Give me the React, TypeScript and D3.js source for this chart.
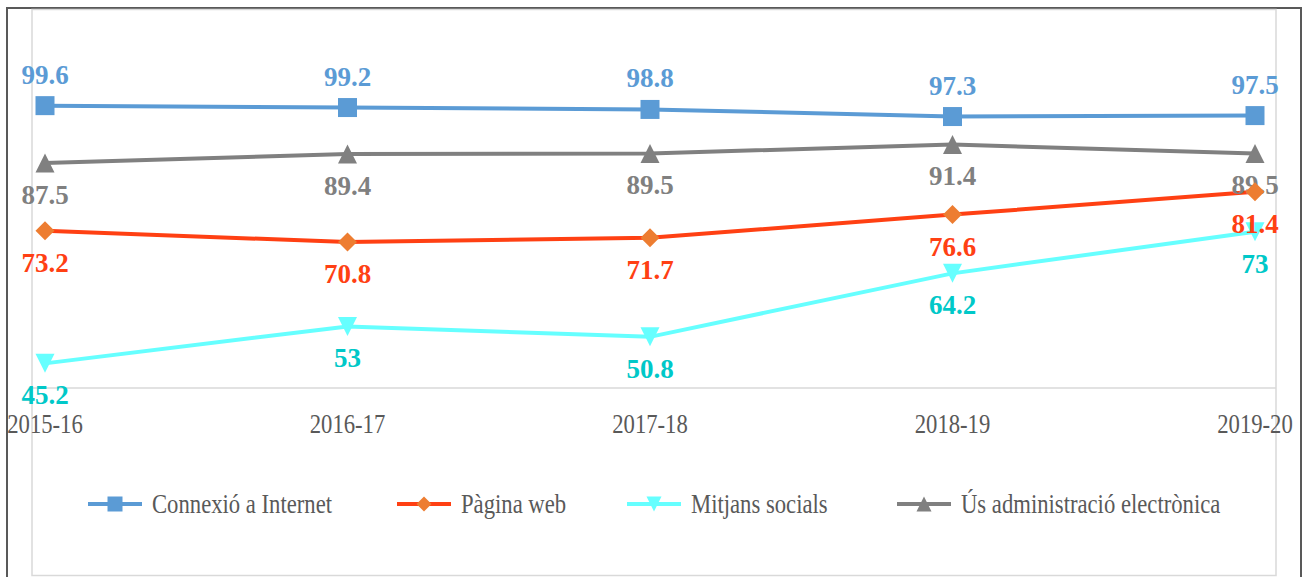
import React from "react";
import * as d3 from "d3";

// chart values
const years = ["2015-16", "2016-17", "2017-18", "2018-19", "2019-20"];
const internet = [99.6, 99.2, 98.8, 97.3, 97.5];
const web = [73.2, 70.8, 71.7, 76.6, 81.4];
const social = [45.2, 53, 50.8, 64.2, 73];
const admin = [87.5, 89.4, 89.5, 91.4, 89.5];
const yDomain = [40, 120];

const W = 1305;
const H = 577;

const series = [
  { key: "internet", name: "Connexió a Internet", values: internet, line: "#5B9BD5", marker: "#5B9BD5", label: "#5B9BD5", shape: "square", above: true },
  { key: "web", name: "Pàgina web", values: web, line: "#FF4013", marker: "#ED7D31", label: "#FF4013", shape: "diamond", above: false },
  { key: "social", name: "Mitjans socials", values: social, line: "#66FFFF", marker: "#66FFFF", label: "#00C8C8", shape: "down", above: false },
  { key: "admin", name: "Ús administració electrònica", values: admin, line: "#808080", marker: "#808080", label: "#808080", shape: "up", above: false },
];

function markerPath(shape: string, s: number) {
  const h = s / 2;
  const p = d3.path();
  if (shape === "square") {
    p.rect(-h, -h, s, s);
  } else if (shape === "diamond") {
    p.moveTo(0, -h); p.lineTo(h, 0); p.lineTo(0, h); p.lineTo(-h, 0); p.closePath();
  } else if (shape === "up") {
    p.moveTo(0, -h); p.lineTo(h, h); p.lineTo(-h, h); p.closePath();
  } else {
    p.moveTo(-h, -h); p.lineTo(h, -h); p.lineTo(0, h); p.closePath();
  }
  return p.toString();
}

const legendX = [88, 397, 627, 897];

export default function App() {
  const x = d3.scalePoint<string>().domain(years).range([45, 1255]);
  const y = d3.scaleLinear().domain(yDomain).range([388, 9]);
  const line = d3
    .line<number>()
    .x((_, i) => x(years[i]) as number)
    .y((d) => y(d));

  const serif = "'Liberation Serif', 'Times New Roman', serif";
  const gray = series.find((s) => s.key === "admin")!;
  const others = series.filter((s) => s.key !== "admin");

  const labels = (s: typeof series[number]) =>
    s.values.map((v, i) => (
      <text
        key={s.key + "l" + i}
        x={x(years[i])}
        y={s.above ? y(v) - 22 : y(v) + 41}
        textAnchor="middle"
        fontFamily={serif}
        fontWeight="bold"
        fontSize={27}
        fill={s.label}
      >
        {v}
      </text>
    ));

  const markers = (s: typeof series[number]) =>
    s.values.map((v, i) => (
      <path
        key={s.key + "m" + i}
        d={markerPath(s.shape, 19)}
        transform={`translate(${x(years[i])},${y(v)})`}
        fill={s.marker}
      />
    ));

  return (
    <svg
      width={W}
      height={H}
      style={{ position: "absolute", left: 0, top: 0, background: "#fff" }}
    >
      <rect x={0} y={0} width={W} height={H} fill="#fff" />
      {/* outer frame */}
      <path d={`M7,${H + 2}V8H1301V${H + 2}`} fill="none" stroke="#595959" strokeWidth={2} />
      {/* inner frame */}
      <rect x={32} y={9.5} width={1244} height={566} fill="none" stroke="#d9d9d9" strokeWidth={1.5} />
      {/* axis line */}
      <line x1={32} x2={1276} y1={y(40)} y2={y(40)} stroke="#d9d9d9" strokeWidth={1.5} />

      {series.map((s) => (
        <path key={s.key} d={line(s.values) || ""} fill="none" stroke={s.line} strokeWidth={4} />
      ))}

      {markers(gray)}
      {labels(gray)}
      {others.map((s) => markers(s))}
      {others.map((s) => labels(s))}

      {years.map((yr) => (
        <text
          key={yr}
          transform={`translate(${x(yr)},433) scale(0.81,1)`}
          textAnchor="middle"
          fontFamily={serif}
          fontSize={28}
          fill="#595959"
        >
          {yr}
        </text>
      ))}

      {series.map((s, i) => (
        <g key={s.key + "leg"} transform={`translate(${legendX[i]},504)`}>
          <line x1={0} x2={54} y1={0} y2={0} stroke={s.line} strokeWidth={4} />
          <path d={markerPath(s.shape, 15)} transform="translate(27,0)" fill={s.marker} />
          <text
            transform="translate(64,9) scale(0.81,1)"
            fontFamily={serif}
            fontSize={28}
            fill="#595959"
          >
            {s.name}
          </text>
        </g>
      ))}
    </svg>
  );
}
